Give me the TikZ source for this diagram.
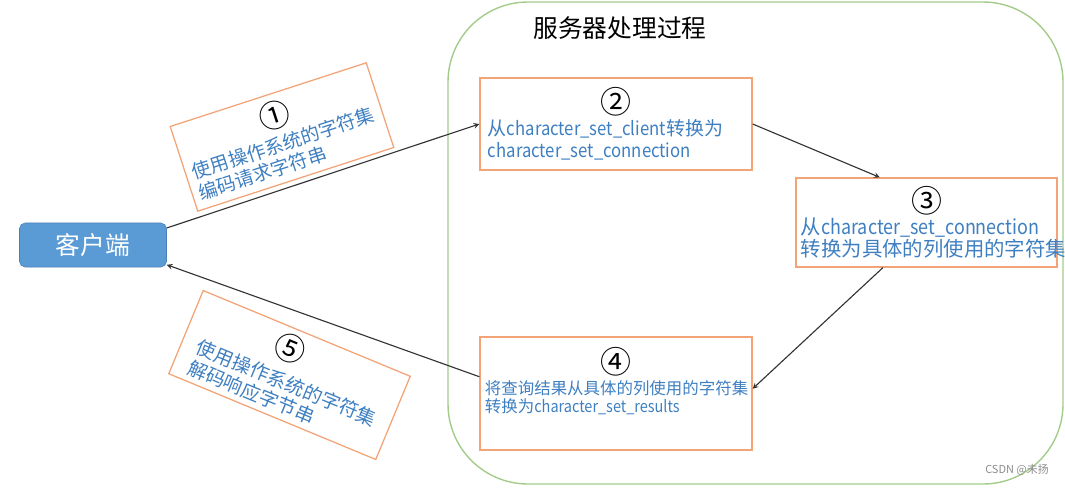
\documentclass[tikz,border=0pt]{standalone}
\usepackage{fontspec}
\setmainfont{Noto Sans CJK SC}
\newfontfamily\latn{Noto Sans CJK SC}[FakeStretch=0.88]
\definecolor{boxorange}{RGB}{242,164,119}
\definecolor{txtblue}{RGB}{62,127,193}
\definecolor{srvgreen}{RGB}{163,204,138}
\definecolor{clientblue}{RGB}{91,155,213}
\definecolor{clientedge}{RGB}{74,128,184}
\newcommand{\fs}[2]{\fontsize{#1}{#2}\selectfont}
\newcommand{\stepno}[2][0pt]{\makebox[\linewidth]{\hspace*{#1}\color{black}\fs{22}{22}#2}}
\newcommand{\cs}[1]{{\latn #1}}
\tikzset{
  stepbox/.style={draw=boxorange, line width=0.9pt, text=txtblue, align=left, inner sep=0pt},
  client/.style={draw=clientedge, fill=clientblue, rounded corners=4pt, text=white,
    minimum width=3.675cm, minimum height=1.1cm, font=\fs{17.6}{20}},
  flow/.style={->, line width=0.8pt, draw=black!80}
}

\begin{document}
\begin{tikzpicture}[x=0.025cm, y=-0.025cm, >=stealth]
    \useasboundingbox (0,0) rectangle (1065,488);
    % server side
    \draw[srvgreen, line width=1pt, rounded corners=2cm] (448,2) rectangle (1063,484);
    \node[font=\fs{17.6}{20}] (title) at (620,28) {服务器处理过程};

    \node[client] (client) at (93,245) {客户端};

    \node[stepbox, rotate=18, minimum width=5.15cm, minimum height=2.225cm, text width=4.8cm,
      font=\fs{13.5}{15.6}] (b1) at (282,137)
      {\stepno{①}\\[2pt]使用操作系统的字符集\\编码请求字符串};
    \node[stepbox, minimum width=6.8cm, minimum height=2.3cm, text width=6.4cm,
      font=\fs{13.5}{15.6}] (b2) at (616,124)
      {\stepno{②}\\从\cs{character\_set\_client}转换为\\\cs{character\_set\_connection}};
    \node[stepbox, minimum width=6.525cm, minimum height=2.225cm, text width=6.275cm,
      font=\fs{14.5}{15.6}] (b3) at (926.5,222.5)
      {\stepno{③}\\从\cs{character\_set\_connection}\\转换为具体的列使用的字符集};
    \node[stepbox, minimum width=6.8cm, minimum height=2.825cm, text width=6.55cm,
      font=\fs{11.7}{13}] (b4) at (616,393.5)
      {\stepno{④}\\[2pt]将查询结果从具体的列使用的字符集\\转换为\cs{character\_set\_results}\rule[-19pt]{0pt}{19pt}};
    \node[stepbox, rotate=-22.5, minimum width=5.6cm, minimum height=2.25cm, text width=4.8cm,
      font=\fs{13.7}{15.6}] (b5) at (289.5,375)
      {\stepno[-14pt]{⑤}\\[5pt]使用操作系统的字符集\\解码响应字节串};

    \draw[flow] (client.13) -- (b2.west);
    \draw[flow] (b2.east) -- (b3.136);
    \draw[flow] (b3.226) -- (b4.2);
    \draw[flow] (b4.173) -- (client.-15);

    \node[text=black!45, font=\fs{7.8}{9}] (wm) at (1017,470) {CSDN @未扬};
\end{tikzpicture}
\end{document}
